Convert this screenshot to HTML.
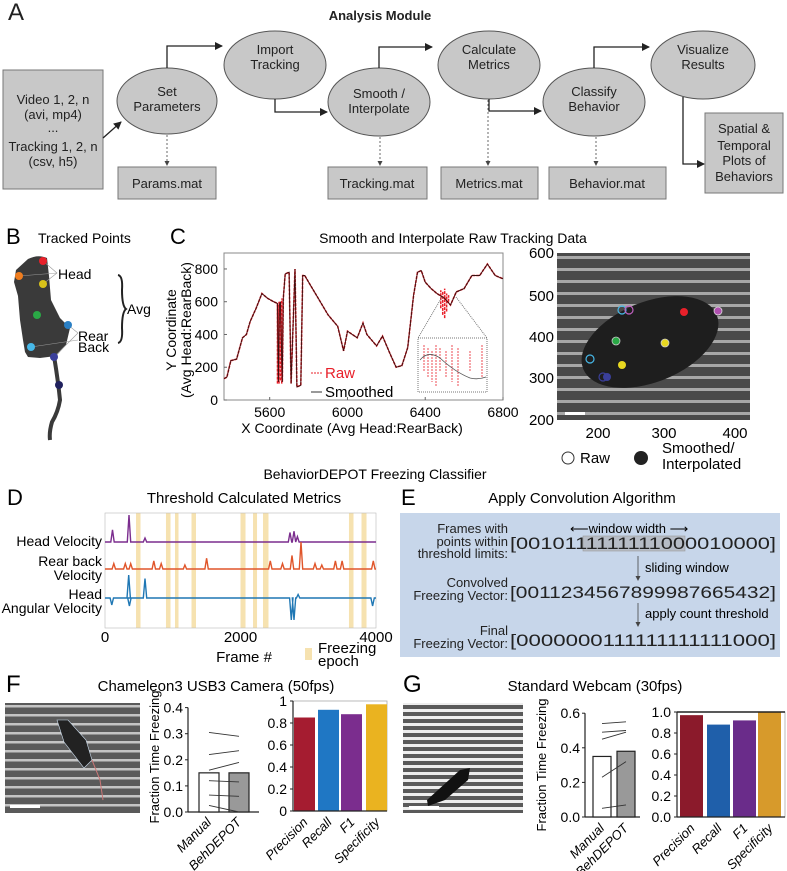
<!DOCTYPE html>
<html><head><meta charset="utf-8"><style>
html,body{margin:0;padding:0;background:#fff;}
svg{display:block;font-family:"Liberation Sans",sans-serif;}
</style></head><body>
<svg id="fig" xmlns="http://www.w3.org/2000/svg" width="787" height="871" viewBox="0 0 787 871">
<defs>
<marker id="ah" markerWidth="8" markerHeight="8" refX="7" refY="4" orient="auto" markerUnits="userSpaceOnUse"><path d="M0,0 L8,4 L0,8 Z" fill="#222"/></marker>
<marker id="ahs" markerWidth="5" markerHeight="5" refX="4" refY="2.5" orient="auto" markerUnits="userSpaceOnUse"><path d="M0,0 L5,2.5 L0,5 Z" fill="#444"/></marker>
<pattern id="stripesC" width="10" height="12" patternUnits="userSpaceOnUse"><rect width="10" height="12" fill="#4a4a4a"/><rect y="4" width="10" height="3" fill="#a8a8a8"/></pattern>
<pattern id="stripesF" width="10" height="9" patternUnits="userSpaceOnUse"><rect width="10" height="9" fill="#5a5a5a"/><rect y="3" width="10" height="2.5" fill="#c4c4c4"/></pattern>
<pattern id="stripesG" width="10" height="7" patternUnits="userSpaceOnUse"><rect width="10" height="7" fill="#5a5a5a"/><rect y="2" width="10" height="3" fill="#eeeeee"/></pattern>
</defs>

<!-- Panel A -->
<g font-size="13" fill="#222">
<text x="8" y="20" font-size="24">A</text>
<text x="380" y="20" font-size="13" font-weight="bold" text-anchor="middle">Analysis Module</text>
<rect x="3" y="70" width="100" height="119" fill="#c8c8c8" stroke="#777"/>
<g text-anchor="middle">
<text x="53" y="104">Video 1, 2, n</text><text x="53" y="119">(avi, mp4)</text><text x="53" y="132">...</text><text x="53" y="151">Tracking 1, 2, n</text><text x="53" y="166">(csv, h5)</text></g>
<g fill="#c8c8c8" stroke="#555" stroke-width="1">
<ellipse cx="167" cy="101" rx="50" ry="33"/>
<ellipse cx="275" cy="65" rx="51" ry="34"/>
<ellipse cx="379" cy="102" rx="51" ry="34"/>
<ellipse cx="489" cy="65" rx="51" ry="34"/>
<ellipse cx="594" cy="102" rx="51" ry="34"/>
<ellipse cx="703" cy="65" rx="52" ry="34"/>
</g>
<g text-anchor="middle">
<text x="167" y="96">Set</text><text x="167" y="111">Parameters</text>
<text x="275" y="54">Import</text><text x="275" y="69">Tracking</text>
<text x="379" y="98">Smooth /</text><text x="379" y="113">Interpolate</text>
<text x="489" y="54">Calculate</text><text x="489" y="69">Metrics</text>
<text x="594" y="96">Classify</text><text x="594" y="111">Behavior</text>
<text x="703" y="54">Visualize</text><text x="703" y="69">Results</text>
</g>
<g fill="#c8c8c8" stroke="#777">
<rect x="118" y="167" width="98" height="32"/>
<rect x="328" y="167" width="99" height="32"/>
<rect x="441" y="167" width="97" height="32"/>
<rect x="549" y="167" width="117" height="32"/>
<rect x="705" y="113" width="78" height="80"/>
</g>
<g text-anchor="middle">
<text x="167" y="188">Params.mat</text><text x="377" y="188">Tracking.mat</text><text x="489" y="188">Metrics.mat</text><text x="607" y="188">Behavior.mat</text>
<text x="744" y="133">Spatial &amp;</text><text x="744" y="150">Temporal</text><text x="744" y="165">Plots of</text><text x="744" y="181">Behaviors</text>
</g>
<g fill="none" stroke="#222" stroke-width="1.3">
<path d="M103,138 L121,122" marker-end="url(#ah)"/>
<path d="M167,68 V46 H222" marker-end="url(#ah)"/>
<path d="M275,99 V112 H327" marker-end="url(#ah)"/>
<path d="M379,68 V47 H432" marker-end="url(#ah)"/>
<path d="M489,99 V111 H541" marker-end="url(#ah)"/>
<path d="M594,68 V47 H649" marker-end="url(#ah)"/>
<path d="M683,97 V164 H704" marker-end="url(#ah)"/>
</g>
<g fill="none" stroke="#444" stroke-width="0.8" stroke-dasharray="2,2">
<path d="M167,135 V165" marker-end="url(#ahs)"/>
<path d="M380,137 V165" marker-end="url(#ahs)"/>
<path d="M488,100 V165" marker-end="url(#ahs)"/>
<path d="M596,137 V165" marker-end="url(#ahs)"/>
</g>
</g>

<!-- Panel B -->
<g>
<text x="6" y="244" font-size="22">B</text>
<text x="38" y="243" font-size="14">Tracked Points</text>
<path d="M28,259 Q38,254 47,258 L49,276 L51,300 L60,318 L70,328 L66,345 L56,356 L40,358 L28,357 L25,352 L23,340 L20,320 L18,296 L14,282 L16,270 Z" fill="#3a3a3a"/>
<path d="M54,356 Q58,380 60,400 Q58,412 52,422 Q49,432 50,440" fill="none" stroke="#3a3a3a" stroke-width="4"/>
<g stroke="#999" stroke-width="0.6" fill="none"><path d="M43,261 L57,273 L43,284 M19,276 L57,273 M68,325 L78,333 L54,357 M31,347 L78,340"/></g>
<circle cx="43" cy="261" r="4" fill="#e8202a"/><circle cx="19" cy="276" r="4" fill="#ef7d1f"/><circle cx="43" cy="284" r="4" fill="#d8c21a"/>
<circle cx="37" cy="315" r="4" fill="#2aa846"/><circle cx="68" cy="325" r="4" fill="#2a7fc4"/><circle cx="31" cy="347" r="4" fill="#47b8e8"/>
<circle cx="54" cy="357" r="4" fill="#3a3f9a"/><circle cx="59" cy="385" r="4" fill="#20215e"/>
<text x="58" y="279" font-size="14">Head</text>
<text x="78" y="341" font-size="14">Rear</text>
<text x="78" y="352" font-size="14">Back</text>
<path d="M118,275 Q123,276 122,290 Q122,306 126,309 Q122,312 122,328 Q123,342 118,343" fill="none" stroke="#222" stroke-width="2"/>
<text x="127" y="314" font-size="14">Avg</text>
</g>

<!-- Panel C -->
<g>
<text x="170" y="244" font-size="22">C</text>
<text x="453" y="243" font-size="14" text-anchor="middle">Smooth and Interpolate Raw Tracking Data</text>
<rect x="224" y="253" width="279" height="147" fill="#fff" stroke="#888"/>
<g id="cPlot"></g>
<text transform="translate(176,330) rotate(-90)" font-size="14" text-anchor="middle">Y Coordinate</text>
<text transform="translate(191,330) rotate(-90)" font-size="14" text-anchor="middle">(Avg Head:RearBack)</text>
<text x="352" y="433" font-size="14" text-anchor="middle">X Coordinate (Avg Head:RearBack)</text>
<line x1="311" y1="373" x2="322" y2="373" stroke="#e8202a" stroke-dasharray="2,1"/>
<text x="325" y="378" font-size="15" fill="#e8202a">Raw</text>
<line x1="311" y1="392" x2="322" y2="392" stroke="#333"/>
<text x="325" y="397" font-size="15">Smoothed</text>
<rect x="418" y="338" width="69" height="54" fill="#fff" stroke="#777" stroke-dasharray="1,1"/>
<path d="M442,297 L418,338 M456,297 L487,338" stroke="#777" stroke-dasharray="1,1" fill="none"/>
<g id="inset"></g>
<rect x="557" y="253" width="193" height="167" fill="url(#stripesC)"/>
<ellipse cx="650" cy="342" rx="72" ry="40" transform="rotate(-22 650 342)" fill="#1e1e1e"/>
<rect x="565" y="412" width="20" height="3" fill="#fff"/>
<g font-size="15" text-anchor="end">
<text x="554" y="258">600</text><text x="554" y="301">500</text><text x="554" y="342">400</text><text x="554" y="383">300</text><text x="554" y="425">200</text></g>
<g font-size="15" text-anchor="middle">
<text x="598" y="438">200</text><text x="664" y="438">300</text><text x="735" y="438">400</text></g>
<g stroke-width="1.2">
<circle cx="622" cy="310" r="4" fill="none" stroke="#47b8e8"/><circle cx="629" cy="310" r="4" fill="none" stroke="#c060c0"/>
<circle cx="684" cy="312" r="4" fill="#e8202a"/><circle cx="718" cy="311" r="4" fill="#b050b0" stroke="#ddd" stroke-width="0.8"/>
<circle cx="616" cy="341" r="4" fill="#2aa846" stroke="#ccc" stroke-width="0.8"/><circle cx="665" cy="343" r="4" fill="#e8d820" stroke="#ccc" stroke-width="0.8"/>
<circle cx="590" cy="359" r="4" fill="none" stroke="#47b8e8"/><circle cx="622" cy="365" r="4" fill="#e8d820"/>
<circle cx="603" cy="377" r="4" fill="none" stroke="#3a3f9a"/><circle cx="607" cy="377" r="4" fill="#3a3f9a"/>
</g>
<circle cx="568" cy="458" r="6" fill="#fff" stroke="#333"/>
<text x="580" y="463" font-size="15">Raw</text>
<circle cx="641" cy="458" r="7" fill="#222"/>
<text x="662" y="453" font-size="15">Smoothed/</text>
<text x="662" y="469" font-size="15">Interpolated</text>
<text x="375" y="479" font-size="14" text-anchor="middle">BehaviorDEPOT Freezing Classifier</text>
</g>

<!-- Panel D -->
<g>
<text x="7" y="505" font-size="22">D</text>
<text x="244" y="503" font-size="15" text-anchor="middle">Threshold Calculated Metrics</text>
<g id="dPlot"></g>
<g font-size="14" text-anchor="end">
<text x="102" y="546">Head Velocity</text>
<text x="102" y="566">Rear back</text><text x="102" y="580">Velocity</text>
<text x="102" y="599">Head</text><text x="102" y="613">Angular Velocity</text>
</g>
<text x="244" y="662" font-size="15" text-anchor="middle">Frame #</text>
<rect x="305" y="648" width="7" height="12" fill="#f6e2b0"/>
<text x="318" y="653" font-size="15">Freezing</text>
<text x="318" y="666" font-size="15">epoch</text>
</g>

<!-- Panel E -->
<g>
<text x="401" y="505" font-size="22">E</text>
<text x="582" y="503" font-size="15" text-anchor="middle">Apply Convolution Algorithm</text>
<rect x="400" y="513" width="380" height="144" fill="#c7d6ea"/>
<rect x="583" y="536" width="102" height="15" fill="#b6bcc6" stroke="#999" stroke-width="0.6"/>
<g font-size="13" text-anchor="end" fill="#222">
<text x="508" y="533">Frames with</text><text x="508" y="546">points within</text><text x="508" y="558">threshold limits:</text>
<text x="508" y="587">Convolved</text><text x="508" y="600">Freezing Vector:</text>
<text x="508" y="635">Final</text><text x="508" y="648">Freezing Vector:</text>
</g>
<g font-size="17" fill="#222">
<text x="510" y="549" textLength="266" lengthAdjust="spacingAndGlyphs">[0010111111111000010000]</text>
<text x="510" y="598" textLength="266" lengthAdjust="spacingAndGlyphs">[0011234567899987665432]</text>
<text x="510" y="646" textLength="266" lengthAdjust="spacingAndGlyphs">[0000000111111111111000]</text>
</g>
<text x="570" y="533" font-size="13">⟵window width ⟶</text>
<line x1="638" y1="556" x2="638" y2="580" stroke="#444" stroke-width="0.8" marker-end="url(#ahs)"/>
<text x="645" y="572" font-size="13">sliding window</text>
<line x1="638" y1="603" x2="638" y2="626" stroke="#444" stroke-width="0.8" marker-end="url(#ahs)"/>
<text x="645" y="618" font-size="13">apply count threshold</text>
</g>

<!-- Panel F -->
<g>
<text x="6" y="692" font-size="24">F</text>
<text x="216" y="691" font-size="15" text-anchor="middle">Chameleon3 USB3 Camera (50fps)</text>
<rect x="5" y="703" width="135" height="110" fill="url(#stripesF)"/>
<path d="M57,720 L68,720 L86,740 L92,760 L84,768 L64,742 Z" fill="#222" stroke="#cde" stroke-width="0.6"/>
<path d="M92,760 L100,780 L103,800" stroke="#c77" fill="none"/>
<rect x="10" y="805" width="30" height="3" fill="#fff"/>
<text transform="translate(159,757) rotate(-90)" font-size="13" text-anchor="middle">Fraction Time Freezing</text>
<g id="fChart1"></g><g id="fChart2"></g>
</g>

<!-- Panel G -->
<g>
<text x="403" y="692" font-size="24">G</text>
<text x="595" y="691" font-size="15" text-anchor="middle">Standard Webcam (30fps)</text>
<rect x="403" y="703" width="120" height="110" fill="url(#stripesG)"/>
<path d="M427,800 L460,770 L470,768 L468,780 L445,800 L428,806 Z" fill="#111"/>
<rect x="409" y="806" width="30" height="3" fill="#fff"/>
<text transform="translate(546,765) rotate(-90)" font-size="13" text-anchor="middle">Fraction Time Freezing</text>
<g id="gChart1"></g><g id="gChart2"></g>
</g>
</svg>

<script>
// ---- Panel C data ----
const cXs = [5365,5380,5400,5430,5460,5480,5500,5530,5560,5590,5620,5640,5645,5650,5655,5665,5670,5680,5700,5710,5730,5740,5760,5770,5780,5800,5850,5900,5950,5980,6000,6050,6080,6100,6150,6180,6220,6250,6280,6310,6340,6360,6380,6400,6430,6460,6500,6530,6560,6600,6640,6680,6720,6760,6800];
const cSmoothY = [130,140,240,250,380,400,480,560,650,620,600,590,110,580,600,110,620,770,780,100,800,80,90,760,760,720,620,520,450,300,420,380,470,400,330,390,280,200,210,320,640,780,790,720,680,650,620,580,660,680,760,760,830,760,740];
const cRawSpikeX = [5640,5648,5655,5662,6480,6490,6500,6510,6520];
const cRawSpikeLow = [100,100,120,100,560,520,500,540,600];
const cRawSpikeHigh = [590,600,580,620,670,660,680,650,640];
const cXTicks = [5600,6000,6400,6800];
const cYTicks = [0,200,400,600,800];

// ---- Panel D data ----
const dEpochStart = [458,900,1033,1277,2000,2185,2332,3601,3786];
const dEpochEnd = [524,967,1085,1343,2074,2244,2413,3668,3860];
const dHeadF = [111,354,590,2730,2790,2840];
const dHeadV = [0.45,1.0,0.15,0.35,0.4,0.2];
const dRearF = [130,300,380,720,830,1180,1500,2440,2620,2760,2893,3100,3200,3400,3500,3960];
const dRearV = [0.2,0.2,0.2,0.3,0.2,0.15,0.4,0.3,0.2,0.5,1.0,0.2,0.15,0.3,0.3,0.3];
const dAngF = [100,350,360,590,2750,2790,2850,3950];
const dAngV = [-0.3,1.0,-0.35,0.85,-0.95,-0.95,0.15,-0.35];
const dXTicks = [0,2000,4000];

// ---- Panel F/G data ----
const fCats = ["Manual","BehDEPOT"];
const fBars = [0.15,0.15];
const fPairManual = [0.305,0.22,0.16,0.12,0.065,0.025];
const fPairBeh = [0.29,0.235,0.19,0.115,0.06,0.0];
const fTicks = [0.0,0.1,0.2,0.3,0.4];
const metricCats = ["Precision","Recall","F1","Specificity"];
const fMetrics = [0.85,0.92,0.88,0.97];
const fMetricTicks = [0,0.2,0.4,0.6,0.8,1];
const gBars = [0.35,0.38];
const gPairManual = [0.54,0.49,0.45,0.23,0.05];
const gPairBeh = [0.55,0.50,0.49,0.32,0.07];
const gTicks = [0.0,0.2,0.4,0.6];
const gMetrics = [0.97,0.88,0.92,1.0];
const gMetricTicks = [0.0,0.2,0.4,0.6,0.8,1.0];

const NS = "http://www.w3.org/2000/svg";
function el(parent, tag, a, txt){ const e=document.createElementNS(NS,tag); for(const k in a) e.setAttribute(k,a[k]); if(txt!==undefined) e.textContent=txt; parent.appendChild(e); return e; }

// Panel C
(function(){
  const g = document.getElementById('cPlot');
  const xS = x => 224 + (x-5365)/(6800-5365)*279;
  const yS = y => 400 - y*0.1638;
  cXTicks.forEach(t=>{
    const e = el(g,'text',{x:xS(t),y:417,'font-size':14,'text-anchor':'middle'},String(t));
    
    
    el(g,'line',{x1:xS(t),x2:xS(t),y1:400,y2:397,stroke:'#666'});
  });
  cYTicks.forEach(t=>{
    const e = el(g,'text',{x:218,y:yS(t)+5,'font-size':14,'text-anchor':'end'},String(t));
    
    
    el(g,'line',{x1:224,x2:227,y1:yS(t),y2:yS(t),stroke:'#666'});
  });
  const pts = cXs.map((x,i)=>xS(x).toFixed(1)+','+yS(cSmoothY[i]).toFixed(1)).join(' ');
  const raw = el(g,'polyline',{points:pts,fill:'none',stroke:'#e8202a','stroke-width':1.6,'stroke-dasharray':'3,1'});
  
  
  cRawSpikeX.forEach((x,i)=>{
    const s = el(g,'line',{x1:xS(x),x2:xS(x),y1:yS(cRawSpikeLow[i]),y2:yS(cRawSpikeHigh[i]),stroke:'#e8202a','stroke-width':1.5,'stroke-dasharray':'3,1'});
    
    
  });
  const sm = el(g,'polyline',{points:pts,fill:'none',stroke:'#3a1010','stroke-width':0.9});
  
  
  const ins = document.getElementById('inset');
  [424,428,432,436,440,446,452,458,470,482].forEach((x,i)=>{
    el(ins,'line',{x1:x,x2:x,y1:345+(i%3)*3,y2:372+(i%4)*5,stroke:'#e8202a','stroke-width':0.8,'stroke-dasharray':'2,1'});
  });
  el(ins,'path',{d:'M420,360 Q428,350 440,358 Q455,372 470,378 Q478,380 486,377',fill:'none',stroke:'#555','stroke-width':0.8});
})();

// Panel D
(function(){
  const g = document.getElementById('dPlot');
  const xS = f => 105 + f/4000*271;
  dEpochStart.forEach((s,i)=>{
    const r = el(g,'rect',{x:xS(s),y:513,width:xS(dEpochEnd[i])-xS(s),height:115,fill:'#f6e2b0'});
    
    
  });
  el(g,'rect',{x:105,y:513,width:271,height:115,fill:'none',stroke:'#bbb','stroke-width':0.6});
  function trace(F,V,base,scale,color,name){
    let p = [[xS(0),base]];
    F.forEach((f,i)=>{ p.push([xS(f-25),base]); p.push([xS(f),base - V[i]*scale]); p.push([xS(f+25),base]); });
    p.push([xS(4000),base]);
    const e = el(g,'polyline',{points:p.map(q=>q[0].toFixed(1)+','+q[1].toFixed(1)).join(' '),fill:'none',stroke:color,'stroke-width':1.4});
    
    
  }
  trace(dHeadF,dHeadV,542,27,'#7b2d8e','head-velocity-trace');
  trace(dRearF,dRearV,569,27,'#e0552a','rear-velocity-trace');
  trace(dAngF,dAngV,598,23,'#1f77b4','angular-velocity-trace');
  dXTicks.forEach(t=>{
    const e = el(g,'text',{x:xS(t),y:642,'font-size':15,'text-anchor':'middle'},String(t));
    
    
  });
})();

function pairChart(id, axX, y0, pxPerUnit, ticks, bars, man, beh, barX, barW, axisEnd, labY, tickFmt){
  const g = document.getElementById(id);
  const yS = v => y0 - v*pxPerUnit;
  el(g,'line',{x1:axX,x2:axX,y1:yS(ticks[ticks.length-1]),y2:y0,stroke:'#222','stroke-width':1.2});
  el(g,'line',{x1:axX,x2:axisEnd,y1:y0,y2:y0,stroke:'#222','stroke-width':1.2});
  ticks.forEach(t=>{
    el(g,'line',{x1:axX-3,x2:axX,y1:yS(t),y2:yS(t),stroke:'#222'});
    const e = el(g,'text',{x:axX-5,y:yS(t)+5,'font-size':14,'text-anchor':'end'},tickFmt(t));
    
    
  });
  bars.forEach((v,i)=>{
    const r = el(g,'rect',{x:barX[i],y:yS(v),width:barW,height:y0-yS(v),fill:i?'#999':'#fff',stroke:'#222','stroke-width':1.2});
    
    
    const t = el(g,'text',{transform:`translate(${barX[i]+barW/2+3},${labY}) rotate(-45)`,'font-size':13,'font-style':'italic','text-anchor':'end'},fCats[i]);
    
    
  });
  man.forEach((v,i)=>{
    const l = el(g,'line',{x1:barX[0]+barW/2,x2:barX[1]+barW/2,y1:yS(v),y2:yS(beh[i]),stroke:'#333','stroke-width':0.9});
    
    
  });
}
pairChart('fChart1',188,812,261,fTicks,fBars,fPairManual,fPairBeh,[199,229],20,259,823,t=>t.toFixed(1));
pairChart('gChart1',585,817,173,gTicks,gBars,gPairManual,gPairBeh,[593,617],18,640,829,t=>t.toFixed(1));

function metricChart(id, axX, right, y0, pxPerUnit, ticks, vals, barX, barW, colors, labY, fmt, topLine){
  const g = document.getElementById(id);
  const yS = v => y0 - v*pxPerUnit;
  const top = yS(ticks[ticks.length-1]);
  el(g,'rect',{x:axX,y:top,width:right-axX,height:y0-top,fill:'none',stroke:'#aaa','stroke-width':0.8});
  vals.forEach((v,i)=>{
    const r = el(g,'rect',{x:barX[i],y:yS(v),width:barW,height:y0-yS(v),fill:colors[i]});
    
    
    const t = el(g,'text',{transform:`translate(${barX[i]+barW/2+4},${labY}) rotate(-45)`,'font-size':13,'font-style':'italic','text-anchor':'end'},metricCats[i]);
    
    
  });
  el(g,'line',{x1:axX,x2:axX,y1:top,y2:y0,stroke:'#222','stroke-width':1.2});
  el(g,'line',{x1:axX,x2:right,y1:y0,y2:y0,stroke:'#222','stroke-width':1.2});
  if(topLine) el(g,'line',{x1:axX,x2:right,y1:top,y2:top,stroke:'#222','stroke-width':1.5});
  ticks.forEach(t=>{
    el(g,'line',{x1:axX-3,x2:axX,y1:yS(t),y2:yS(t),stroke:'#222'});
    const e = el(g,'text',{x:axX-6,y:yS(t)+5,'font-size':14,'text-anchor':'end'},fmt(t));
    
    
  });
}
metricChart('fChart2',293,387,811,110,fMetricTicks,fMetrics,[294,318,341,366],21,['#a51c30','#1f77c4','#7b2d8e','#eab320'],823,t=>String(+t.toFixed(1)),false);
metricChart('gChart2',677,785,817,105,gMetricTicks,gMetrics,[680,707,733,758],23,['#8b1a2b','#1f5faa','#6a2c8a','#d79a2b'],829,t=>t.toFixed(1),true);
</script>
</body></html>
